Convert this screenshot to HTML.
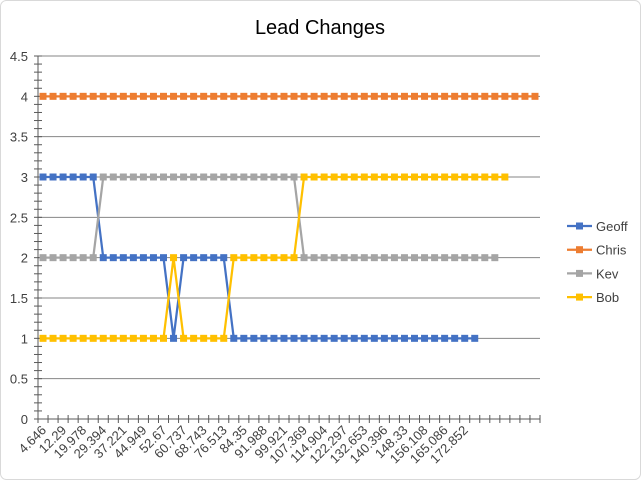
<!DOCTYPE html>
<html><head><meta charset="utf-8"><style>
body{margin:0;background:#fff;}
svg{display:block;font-family:"Liberation Sans",sans-serif;}
</style></head><body>
<svg id="chart" width="641" height="480">
<rect x="0.5" y="0.5" width="640" height="479" rx="6" fill="#fff" stroke="#d9d9d9"/>
<text x="320" y="34" text-anchor="middle" font-size="20" fill="#000">Lead Changes</text>
<g id="grid"></g><g id="axes"></g><g id="series"></g><g id="legend"></g>
</svg>
<script>
const categoryLabels=["4.646","12.29","19.978","29.394","37.221","44.949","52.67","60.737","68.743","76.513","84.35","91.988","99.921","107.369","114.904","122.297","132.653","140.396","148.33","156.108","165.086","172.852"];
const categoryCount=50;
const yTicks=[0,0.5,1,1.5,2,2.5,3,3.5,4,4.5];
const seriesNames=["Geoff","Chris","Kev","Bob"];
const seriesColors=["#4472c4","#ed7d31","#a5a5a5","#ffc000"];
const geoff=[3,3,3,3,3,3,2,2,2,2,2,2,2,1,2,2,2,2,2,1,1,1,1,1,1,1,1,1,1,1,1,1,1,1,1,1,1,1,1,1,1,1,1,1];
const chris=[4,4,4,4,4,4,4,4,4,4,4,4,4,4,4,4,4,4,4,4,4,4,4,4,4,4,4,4,4,4,4,4,4,4,4,4,4,4,4,4,4,4,4,4,4,4,4,4,4,4];
const kev=[2,2,2,2,2,2,3,3,3,3,3,3,3,3,3,3,3,3,3,3,3,3,3,3,3,3,2,2,2,2,2,2,2,2,2,2,2,2,2,2,2,2,2,2,2,2];
const bob=[1,1,1,1,1,1,1,1,1,1,1,1,1,2,1,1,1,1,1,2,2,2,2,2,2,2,3,3,3,3,3,3,3,3,3,3,3,3,3,3,3,3,3,3,3,3,3];
const allSeries=[geoff,chris,kev,bob];

const NS="http://www.w3.org/2000/svg";
const X0=38,X1=540,Y0=419,Y1=56,YMAX=4.5;
const step=(X1-X0)/categoryCount;
const xS=i=>X0+(i+0.5)*step;
const yS=v=>Y0-(v/YMAX)*(Y0-Y1);
function mk(tag,attrs,parent){const e=document.createElementNS(NS,tag);for(const k in attrs)e.setAttribute(k,attrs[k]);parent.appendChild(e);return e;}
const grid=document.getElementById('grid'),axes=document.getElementById('axes'),ser=document.getElementById('series'),leg=document.getElementById('legend');
yTicks.forEach(t=>{
  if(t>0){const l=mk('line',{x1:X0,x2:X1,y1:yS(t),y2:yS(t),stroke:'#868686','stroke-width':1},grid);
  
  }
  const tx=mk('text',{x:X0-10,y:yS(t)+5,'text-anchor':'end','font-size':13,fill:'#404040'},axes);
  tx.textContent=String(t);
  
  
});
for(let k=0;k<=45;k++){const v=k*0.1;const l=mk('line',{x1:X0-4,x2:X0+4,y1:yS(v),y2:yS(v),stroke:'#595959'},axes);

}
const ya=mk('line',{x1:X0,x2:X0,y1:Y1,y2:Y0,stroke:'#595959'},axes);


const xa=mk('line',{x1:X0,x2:X1,y1:Y0,y2:Y0,stroke:'#595959'},axes);


for(let i=0;i<=categoryCount;i++){const x=X0+i*step;const l=mk('line',{x1:x,x2:x,y1:Y0-4,y2:Y0+4,stroke:'#595959'},axes);

}
categoryLabels.forEach((lab,j)=>{const x=xS(j*2)+4,y=Y0+12;
  const t=mk('text',{x:x,y:y,'text-anchor':'end','font-size':13,fill:'#404040',transform:`rotate(-45 ${x} ${y})`},axes);
  t.textContent=lab;
  
  });
allSeries.forEach((d,s)=>{
  const g=mk('g',{},ser);
  
  
  const pts=d.map((v,i)=>xS(i)+','+yS(v)).join(' ');
  const pl=mk('polyline',{points:pts,fill:'none',stroke:seriesColors[s],'stroke-width':2.25},g);
  
  
  d.forEach((v,i)=>{const r=mk('rect',{x:xS(i)-3.5,y:yS(v)-3.5,width:7,height:7,fill:seriesColors[s]},g);
    
    });
});
seriesNames.forEach((n,s)=>{const y=226+s*23.7;
  const g=mk('g',{},leg);
  
  
  mk('line',{x1:567,x2:592,y1:y,y2:y,stroke:seriesColors[s],'stroke-width':2.25},g);
  mk('rect',{x:576,y:y-3.5,width:7,height:7,fill:seriesColors[s]},g);
  const t=mk('text',{x:596,y:y+5,'font-size':13,fill:'#404040'},g);t.textContent=n;});
</script>
</body></html>
